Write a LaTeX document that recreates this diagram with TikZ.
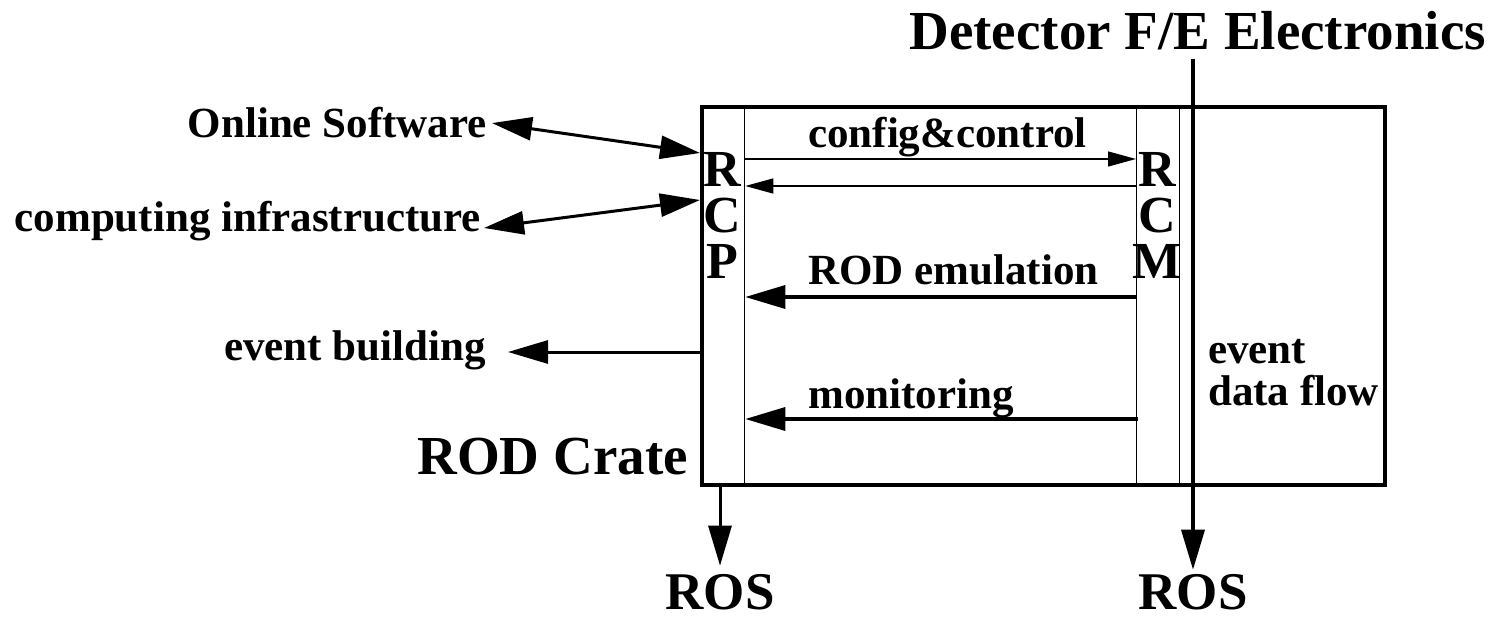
\documentclass[tikz,border=0pt]{standalone}
\usepackage{fontspec}
\setmainfont{Liberation Serif}
\usetikzlibrary{arrows.meta}

\begin{document}
\begin{tikzpicture}[
    x=1pt, y=-1pt,
    lbl/.style={inner sep=0pt, font=\fontsize{43}{42}\selectfont\bfseries},
    big/.style={inner sep=0pt, font=\fontsize{55}{60}\selectfont\bfseries},
    ros/.style={inner sep=0pt, anchor=base, font=\fontsize{53}{60}\selectfont\bfseries},
    letters/.style={inner sep=0pt, anchor=base, align=center, font=\fontsize{52}{46}\selectfont\bfseries},
    frame/.style={draw, line width=4pt, inner sep=0pt, minimum height=378pt, anchor=north west},
    column/.style={draw, line width=1.3pt, inner sep=0pt, minimum height=378pt, anchor=north west},
    thinarrow/.style={line width=1.3pt, -{Triangle[length=28pt,width=15pt]}},
    heavy/.style={line width=3.5pt},
    link/.style={line width=3pt},
    >={Triangle[length=40pt,width=23pt]}
  ]
  \useasboundingbox (0,0) rectangle (1491,620);

  % crate with the RCP and RCM columns
  \node[column, minimum width=44pt] (rcp) at (700,105) {};
  \node[column, minimum width=43pt] (rcm) at (1136,105) {};
  \node[frame, minimum width=683pt] (crate) at (700,105) {};

  \node[letters] (rcpname) at (722,279) {R\\C\\P};
  \node[letters] (rcmname) at (1157.5,279) {R\\C\\M};

  % rows of the arrows inside the crate
  \coordinate (row1) at (0,159);
  \coordinate (row2) at (0,186);
  \coordinate (row3) at (0,297);
  \coordinate (row4) at (0,419);
  \coordinate (row5) at (0,352);

  \node[lbl, anchor=base west] (cfg) at (808,148) {config\&control};
  \node[lbl, anchor=base west] (emu) at (808,285) {ROD emulation};
  \node[lbl, anchor=base west] (mon) at (808,408) {monitoring};
  \node[lbl, anchor=base west, align=left] (flow) at (1208,405) {event\\data flow};

  \draw[thinarrow] (rcp.east |- row1) -- (rcm.west |- row1);
  \draw[thinarrow] (rcm.west |- row2) -- (rcp.east |- row2);
  \draw[->, heavy] (rcm.west |- row3) -- (rcp.east |- row3);
  \draw[->, heavy] ([xshift=2pt]rcm.west |- row4) -- (rcp.east |- row4);

  % outside world
  \node[lbl, anchor=base east] (online) at (487,138) {Online Software};
  \node[lbl, anchor=base east] (infra) at (481,232) {computing infrastructure};
  \node[lbl, anchor=base east] (evb) at (486,360) {event building};
  \node[big, anchor=base east] (cratename) at (688,474) {ROD Crate};
  \node[big, anchor=base east] (fe) at (1486,50) {Detector F/E Electronics};
  \node[ros] (ros1) at (720,609) {ROS};
  \node[ros] (ros2) at (1193,609) {ROS};

  \coordinate (osin) at (700,153);
  \coordinate (ciin) at (700,200);
  \draw[<->, link] ([xshift=5pt]online.east) -- (osin);
  \draw[<->, link] ([xshift=3pt, yshift=4pt]infra.base east) -- (ciin);
  \draw[->, link] (crate.west |- row5) -- ([xshift=22pt]evb.east |- row5);
  \draw[->, link] (ros1 |- crate.south) -- ([yshift=8pt]ros1.north);
  \draw[->, heavy] ([yshift=-8pt]ros2 |- fe.south) -- ([yshift=4pt]ros2.north);
\end{tikzpicture}
\end{document}
